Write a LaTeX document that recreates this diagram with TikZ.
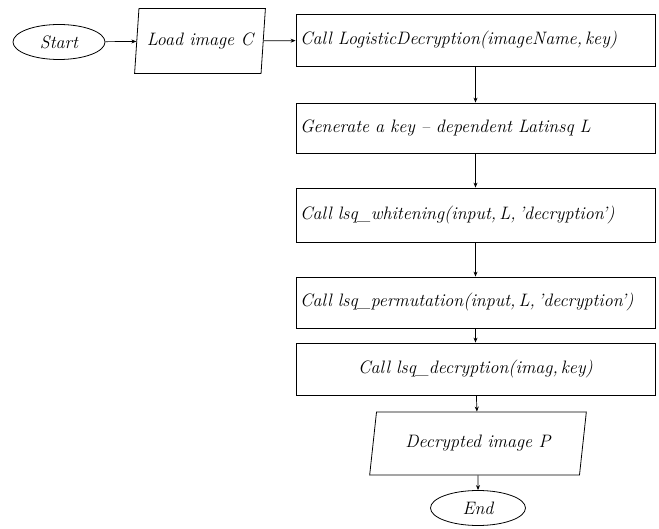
\documentclass[tikz,border=0pt]{standalone}
\usetikzlibrary{shapes.geometric,arrows.meta}
\begin{document}
\begin{tikzpicture}[x=1pt,y=-1pt,
  every node/.style={font=\fontsize{18}{21}\selectfont\itshape, inner sep=2pt},
  box/.style={draw, line width=0.8pt, minimum width=359pt, minimum height=52pt, text width=351pt, align=left},
  cbox/.style={box, align=center},
  term/.style={draw, ellipse, line width=0.8pt},
  io/.style={draw, trapezium, trapezium left angle=79, trapezium right angle=101, trapezium stretches=true, line width=0.8pt},
  arr/.style={-{Stealth[length=5pt,width=4pt]}, line width=0.7pt}]
\useasboundingbox (0,0) rectangle (659,529);
\node[term, minimum width=92pt, minimum height=35pt] (start) at (59,42) {Start};
\node[io, minimum width=131pt, minimum height=65pt] (load) at (200,41) {Load image C};
\node[box] (b1) at (475.5,40) {Call LogisticDecryption(imageName,\,key)};
\node[box, minimum height=50pt] (b2) at (475.5,128) {Generate a key -- dependent Latinsq L};
\node[box, minimum height=54pt] (b3) at (475.5,215) {Call lsq\_whitening(input,\,L,\,'decryption')};
\node[box, minimum height=51pt] (b4) at (475.5,302.5) {Call lsq\_permutation(input,\,L,\,'decryption')};
\node[cbox, minimum height=52pt] (b5) at (475.5,369) {Call lsq\_decryption(imag,\,key)};
\node[io, minimum width=217pt, minimum height=63pt, trapezium left angle=76, trapezium right angle=104] (out) at (478,443.5) {Decrypted image P};
\node[term, minimum width=95pt, minimum height=35pt] (end) at (478,508) {End};
\draw[arr] (start) -- (load);
\draw[arr] (load) -- (b1);
\draw[arr] (b1) -- (b2);
\draw[arr] (b2) -- (b3);
\draw[arr] (b3) -- (b4);
\draw[arr] (b4) -- (b5);
\draw[arr] (b5) -- (out);
\draw[arr] (out) -- (end);
\end{tikzpicture}
\end{document}
